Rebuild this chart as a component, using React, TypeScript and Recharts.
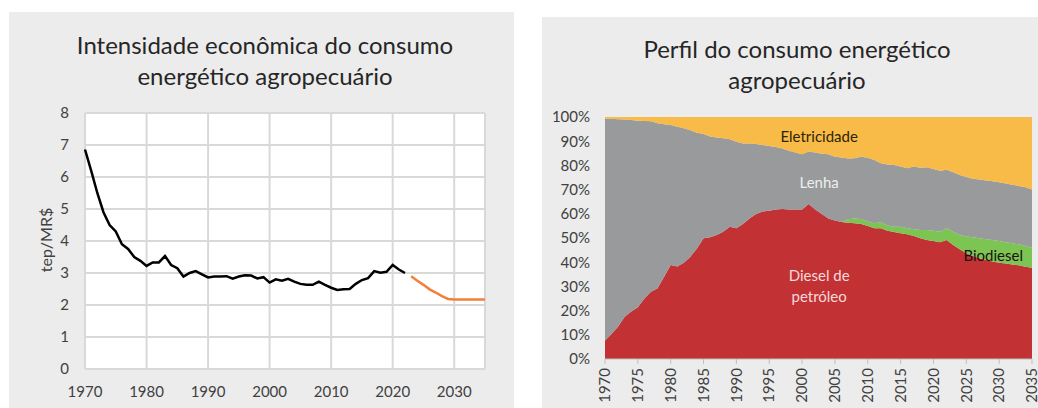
import { LineChart, Line, XAxis, YAxis, CartesianGrid, AreaChart, Area, ReferenceDot } from "recharts";

// anos 1970..2035
const anos = Array.from({ length: 66 }, (_, i) => 1970 + i);

// intensidade econômica (tep/MR$), histórico 1970-2022
const intensidade = [
  6.86, 6.2, 5.5, 4.9, 4.5, 4.3, 3.9, 3.75, 3.5, 3.38,
  3.22, 3.33, 3.33, 3.53, 3.25, 3.15, 2.89, 3.0, 3.06, 2.96,
  2.86, 2.89, 2.89, 2.9, 2.82, 2.89, 2.93, 2.92, 2.83, 2.87,
  2.7, 2.8, 2.76, 2.82, 2.73, 2.66, 2.63, 2.63, 2.73, 2.63,
  2.54, 2.47, 2.49, 2.5, 2.66, 2.78, 2.84, 3.06, 3.01, 3.04,
  3.25, 3.11, 3.0,
];
// projeção 2023-2035
const projecao = [2.9, 2.76, 2.63, 2.49, 2.39, 2.28, 2.19, 2.17, 2.17, 2.17, 2.17, 2.17, 2.17];

// perfil do consumo (% do total)
const diesel = [
  7.6, 10.3, 13.4, 17.5, 19.6, 21.4, 25.0, 27.8, 29.2, 34.0,
  38.8, 38.2, 39.8, 42.3, 45.7, 49.9, 50.3, 51.2, 52.6, 54.7,
  54.0, 55.8, 58.1, 59.9, 60.9, 61.3, 61.8, 62.0, 61.8, 61.8,
  61.8, 64.0, 61.8, 59.9, 58.1, 57.2, 56.6, 56.3, 56.1, 55.8,
  55.0, 54.0, 54.0, 53.0, 52.5, 52.0, 51.5, 50.8, 49.9, 49.2,
  48.8, 48.2, 49.2, 47.1, 45.3, 43.7, 42.6, 41.6, 40.9, 40.3,
  39.8, 39.5, 39.1, 38.7, 38.1, 37.7,
];
const biodiesel = [
  0, 0, 0, 0, 0, 0, 0, 0, 0, 0,
  0, 0, 0, 0, 0, 0, 0, 0, 0, 0,
  0, 0, 0, 0, 0, 0, 0, 0, 0, 0,
  0, 0, 0, 0, 0, 0, 0, 1.4, 2.0, 2.1,
  1.8, 2.1, 2.5, 2.2, 2.2, 2.7, 2.5, 2.8, 3.4, 4.1,
  4.2, 4.4, 4.8, 5.5, 5.9, 6.9, 7.7, 8.3, 8.6, 8.9,
  9.0, 8.7, 8.7, 8.7, 8.6, 8.3,
];
const lenha = [
  91.8, 89.0, 85.7, 81.5, 79.2, 77.1, 73.3, 70.4, 68.2, 63.0,
  57.9, 57.8, 55.5, 52.2, 47.8, 43.1, 41.6, 40.3, 38.6, 36.1,
  35.8, 33.3, 30.9, 28.9, 27.5, 26.7, 25.8, 25.0, 24.3, 23.5,
  22.8, 21.7, 23.5, 24.9, 26.5, 26.4, 26.7, 25.2, 24.9, 25.7,
  26.4, 26.1, 24.4, 25.2, 25.5, 24.8, 24.8, 25.9, 25.7, 25.9,
  25.5, 25.2, 24.2, 24.6, 24.8, 24.6, 24.2, 24.3, 24.3, 24.2,
  24.2, 24.3, 24.2, 24.1, 24.3, 24.0,
];
const eletricidade = [
  0.6, 0.7, 0.9, 1.0, 1.2, 1.5, 1.7, 1.8, 2.6, 3.0,
  3.3, 4.0, 4.7, 5.5, 6.5, 7.0, 8.1, 8.5, 8.8, 9.2,
  10.2, 10.9, 11.0, 11.2, 11.6, 12.0, 12.4, 13.0, 13.9, 14.7,
  15.4, 14.3, 14.7, 15.2, 15.4, 16.4, 16.7, 17.1, 17.0, 16.4,
  16.8, 17.8, 19.1, 19.6, 19.8, 20.5, 21.2, 20.5, 21.0, 20.8,
  21.5, 22.2, 21.8, 22.8, 24.0, 24.8, 25.5, 25.8, 26.2, 26.6,
  27.0, 27.5, 28.0, 28.5, 29.0, 30.0,
];

const ticksEsq = [1970, 1980, 1990, 2000, 2010, 2020, 2030];
const ticksY = [0, 1, 2, 3, 4, 5, 6, 7, 8];
const ticksDir = [1970, 1975, 1980, 1985, 1990, 1995, 2000, 2005, 2010, 2015, 2020, 2025, 2030, 2035];
const ticksPct = [0, 10, 20, 30, 40, 50, 60, 70, 80, 90, 100];

const fonte = "Lato, 'Open Sans', sans-serif";
const cinzaTexto = "#404040";

const linhas = anos.map((ano, i) => ({
  ano,
  intensidade: i < intensidade.length ? intensidade[i] : null,
  projecao: i >= intensidade.length ? projecao[i - intensidade.length] : null,
}));

const perfil = anos.map((ano, i) => ({
  ano,
  diesel: diesel[i],
  biodiesel: biodiesel[i],
  lenha: lenha[i],
  eletricidade: eletricidade[i],
}));

const rotulos = [
  { x: 2002.6, y: 91.7, texto: "Eletricidade", cor: "#2e2406" },
  { x: 2002.6, y: 72.7, texto: "Lenha", cor: "#eeeeee" },
  { x: 2002.6, y: 34.3, texto: "Diesel de", cor: "#f6dada" },
  { x: 2002.6, y: 25.6, texto: "petróleo", cor: "#f6dada" },
  { x: 2029.1, y: 42.6, texto: "Biodiesel", cor: "#1c1010" },
];

function TickVertical({ x, y, payload }: any) {
  return (
    <text x={x} y={y} transform={`rotate(-90 ${x} ${y})`} textAnchor="end" dy="0.35em"
      fill={cinzaTexto} fontSize={15} fontFamily={fonte}>
      {payload.value}
    </text>
  );
}

export default function App() {
  return (
    <div style={{ position: "absolute", left: 0, top: 0, width: 1038, height: 408, background: "#fff", overflow: "hidden", fontFamily: fonte }}>
      <div style={{ position: "absolute", left: 9, top: 12, width: 505, height: 396, background: "#ececec" }} />
      <div style={{ position: "absolute", left: 542, top: 17, width: 500, height: 391, background: "#ececec" }} />

      <div style={{ position: "absolute", left: 9, top: 29, width: 512, textAlign: "center", fontSize: 24, lineHeight: "31px", color: "#262626" }}>
        Intensidade econômica do consumo<br />energético agropecuário
      </div>
      <div style={{ position: "absolute", left: 542, top: 33, width: 510, textAlign: "center", fontSize: 24, lineHeight: "31px", color: "#262626" }}>
        Perfil do consumo energético<br />agropecuário
      </div>
      <div style={{ position: "absolute", left: 45, top: 240, transform: "translate(-50%, -50%) rotate(-90deg)", fontSize: 16, color: cinzaTexto, whiteSpace: "nowrap" }}>
        tep/MR$
      </div>

      <div style={{ position: "absolute", left: 0, top: 0 }}>
        <LineChart width={520} height={408} data={linhas} margin={{ top: 113, right: 35, bottom: 9, left: 45 }}>
          <CartesianGrid stroke="#d9d9d9" strokeWidth={2} fill="#fff" />
          <XAxis dataKey="ano" type="number" domain={[1970, 2035]} ticks={ticksEsq} interval={0} height={30}
            tickLine={false} axisLine={false} tickSize={0} tickMargin={17}
            tick={{ fill: cinzaTexto, fontSize: 15, fontFamily: fonte }} />
          <YAxis domain={[0, 8]} ticks={ticksY} width={40} interval={0}
            tickLine={false} axisLine={false} tickSize={0} tickMargin={16}
            tick={{ fill: cinzaTexto, fontSize: 15, fontFamily: fonte }} />
          <Line dataKey="intensidade" stroke="#000" strokeWidth={2.5} dot={false} isAnimationActive={false} />
          <Line dataKey="projecao" stroke="#f0803c" strokeWidth={2.5} dot={false} isAnimationActive={false} />
        </LineChart>
      </div>

      <div style={{ position: "absolute", left: 520, top: 0 }}>
        <AreaChart width={518} height={408} data={perfil} margin={{ top: 117, right: 6, bottom: 4, left: 25 }}>
          <XAxis dataKey="ano" type="number" domain={[1970, 2035]} ticks={ticksDir} interval={0} height={45}
            tickLine={{ stroke: "#bfbfbf" }} axisLine={{ stroke: "#bfbfbf" }} tickSize={5} tickMargin={4}
            tick={<TickVertical />} />
          <YAxis domain={[0, 100]} ticks={ticksPct} width={60} interval={0}
            tickFormatter={(v) => `${v}%`}
            tickLine={false} axisLine={false} tickSize={0} tickMargin={15}
            tick={{ fill: cinzaTexto, fontSize: 15, fontFamily: fonte }} />
          <Area type="linear" dataKey="diesel" stackId="1" stroke="none" fill="#c23134" fillOpacity={1} isAnimationActive={false} />
          <Area type="linear" dataKey="biodiesel" stackId="1" stroke="none" fill="#7cc553" fillOpacity={1} isAnimationActive={false} />
          <Area type="linear" dataKey="lenha" stackId="1" stroke="none" fill="#989a9b" fillOpacity={1} isAnimationActive={false} />
          <Area type="linear" dataKey="eletricidade" stackId="1" stroke="none" fill="#f8bb48" fillOpacity={1} isAnimationActive={false} />
          {rotulos.map((r) => (
            <ReferenceDot key={r.texto} x={r.x} y={r.y} r={0} fill="none" stroke="none"
              label={{ value: r.texto, position: "center", fill: r.cor, fontSize: 15, fontFamily: fonte }} />
          ))}
        </AreaChart>
      </div>
    </div>
  );
}
